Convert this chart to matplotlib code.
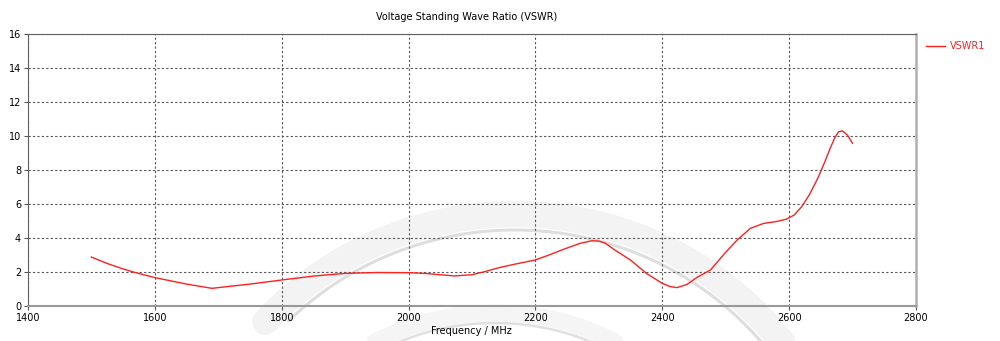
import numpy as np
import matplotlib.pyplot as plt

# VSWR curve
freq_mhz = [1500, 1525, 1550, 1566, 1600, 1650, 1690, 1750, 1800, 1850,
            1900, 1950, 2000, 2025, 2050, 2072, 2100, 2120, 2144, 2170,
            2199, 2220, 2244, 2270, 2289, 2300, 2310, 2325, 2350, 2375, 2400,
            2412, 2423, 2439, 2455, 2476, 2501, 2518, 2539, 2560, 2580, 2595,
            2608, 2620, 2632, 2645, 2656, 2665, 2672, 2678, 2684, 2692, 2700]
vswr = [2.88, 2.5, 2.18, 2.0, 1.67, 1.29, 1.04, 1.29, 1.53, 1.76,
        1.92, 1.97, 1.96, 1.92, 1.84, 1.77, 1.84, 2.02, 2.27, 2.48,
        2.7, 2.98, 3.33, 3.68, 3.84, 3.82, 3.7, 3.3, 2.7, 1.92, 1.33,
        1.15, 1.08, 1.27, 1.69, 2.12, 3.2, 3.88, 4.57, 4.86, 4.97, 5.1,
        5.35, 5.85, 6.55, 7.5, 8.45, 9.3, 9.9, 10.25, 10.3, 10.05, 9.57]

x_ticks = [1400, 1600, 1800, 2000, 2200, 2400, 2600, 2800]
y_ticks = [0, 2, 4, 6, 8, 10, 12, 14, 16]

fig = plt.figure(figsize=(10, 3.41), dpi=100)

# faint watermark rings, drawn in pixel space on a background axes
bg = fig.add_axes([0, 0, 1, 1], zorder=0)
bg.set_xlim(0, 1000)
bg.set_ylim(341, 0)
bg.axis('off')


def ring(cx, cy, a, b, t0, t1, lw, color):
    t = np.radians(np.linspace(t0, t1, 200))
    bg.plot(cx + a * np.cos(t), cy - b * np.sin(t), color=color, lw=lw,
            solid_capstyle='round')


ring(515, 540, 336, 326, 30, 138, 19, '#f3f3f3')
ring(515, 540, 320, 310, 30, 135, 2.2, '#dedede')
ring(495, 485, 216, 172, 20, 160, 12, '#f5f5f5')
ring(495, 485, 204, 162, 20, 160, 1.8, '#e0e0e0')

ax = fig.add_axes([0.028, 0.1026, 0.888, 0.7977], zorder=1)
ax.patch.set_alpha(0)

ax.plot(freq_mhz, vswr, color='#ff2020', lw=1.0, label='VSWR1', zorder=3)

ax.set_xlim(1400, 2800)
ax.set_ylim(0, 16)
ax.set_xticks(x_ticks)
ax.set_yticks(y_ticks)
ax.grid(True, color='#555555', ls=(0, (2, 2)), lw=0.8)
ax.tick_params(labelsize=7, length=3, color='#555555', pad=2)
for s in ['top', 'left']:
    ax.spines[s].set_color('#606060')
ax.spines['bottom'].set_color('#999999')
ax.spines['bottom'].set_linewidth(1.5)
ax.spines['right'].set_color('#b0b0b0')
ax.spines['right'].set_linewidth(1.8)

fig.text(0.4665, 0.95, 'Voltage Standing Wave Ratio (VSWR)', fontsize=7,
         ha='center', va='center')
fig.text(0.4715, 0.028, 'Frequency / MHz', fontsize=7, ha='center', va='center')

leg = ax.legend(loc='upper left', bbox_to_anchor=(1.0, 1.01), frameon=False,
                fontsize=7, handlelength=2.0, handletextpad=0.5,
                borderaxespad=0.6)
for t in leg.get_texts():
    t.set_color('#ff2020')

fig.savefig('out.png', dpi=100)
